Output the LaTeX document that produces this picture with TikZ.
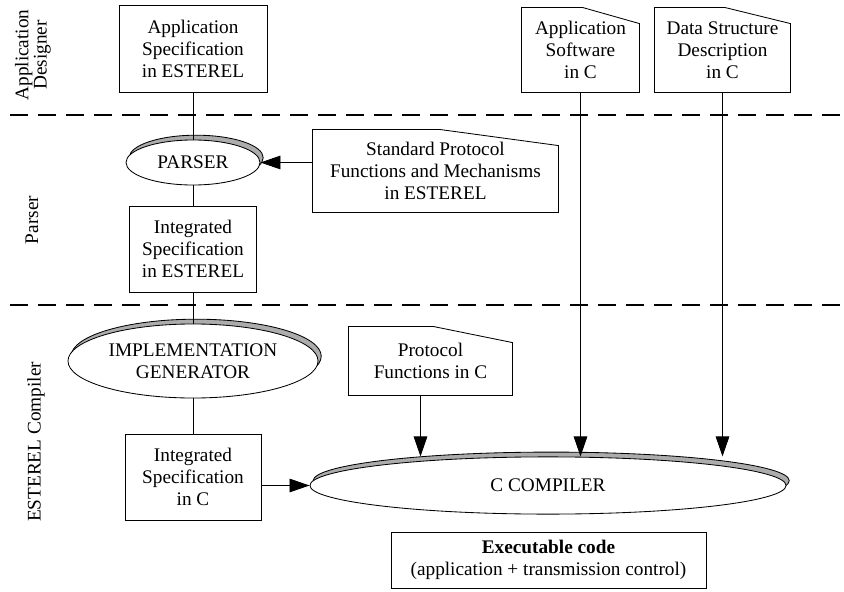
\documentclass[tikz,border=0pt]{standalone}
\usepackage{fontspec}
\setmainfont{Liberation Serif}
\usetikzlibrary{shapes.geometric,shadows,arrows.meta,calc}

\tikzset{
  box/.style={draw, fill=white, align=center, inner sep=0pt},
  doc/.style={align=center, inner sep=0pt},
  proc/.style={ellipse, draw, fill=white, align=center, inner sep=0pt,
    drop shadow={shadow xshift=0.08cm, shadow yshift=0.12cm, fill=gray!65, draw=black, opacity=1}},
  arr/.style={-{Triangle[length=0.5cm,width=0.34cm]}},
  sep/.style={line width=1.3pt, dash pattern=on 0.45cm off 0.25cm},
  lane/.style={rotate=90, align=center, font=\fontsize{13.7}{11}\selectfont}
}

\begin{document}
\begin{tikzpicture}[x=0.025cm, y=-0.025cm, line width=0.6pt, font=\fontsize{13.7}{15.6}\selectfont]
  \useasboundingbox (0,0) rectangle (844,592);

  % lanes
  \draw[sep] (10,115) -- (844,115);
  \draw[sep] (10,305) -- (844,305);
  \node[lane] (designer) at (33,55) {Application\\Designer};
  \node[lane] (parsing) at (32,220) {Parser};
  \node[lane] (compiling) at (36,442) {ESTEREL Compiler};

  % esterel side
  \node[box, minimum width=3.7cm, minimum height=2.175cm] (appspec) at (193,48.5) {Application\\Specification\\in ESTEREL};
  \node[proc, minimum width=3.35cm, minimum height=1.125cm] (parser) at (193,162.5) {PARSER};
  \node[box, minimum width=3.175cm, minimum height=2.15cm] (intesterel) at (193,249) {Integrated\\Specification\\in ESTEREL};
  \node[proc, minimum width=6.25cm, minimum height=1.85cm] (implgen) at (193,361) {IMPLEMENTATION\\GENERATOR};
  \node[box, minimum width=3.4cm, minimum height=2.15cm] (intc) at (193,477) {Integrated\\Specification\\in C};

  % documents
  \node[doc, minimum width=2.925cm, minimum height=2.1cm] (appsw) at (580.5,50) {Application\\Software\\in C};
  \node[doc, minimum width=3.375cm, minimum height=2.1cm] (datadesc) at (722.5,50) {Data Structure\\Description\\in C};
  \node[doc, minimum width=6.125cm, minimum height=2.05cm] (stdproto) at (435.5,171) {Standard Protocol\\Functions and Mechanisms\\in ESTEREL};
  \node[doc, minimum width=4.075cm, minimum height=1.7cm] (protoc) at (430.5,361) {Protocol\\Functions in C};
  \foreach \d in {appsw,datadesc,stdproto,protoc}
    \draw (\d.south west) -- (\d.north west) -- ($(\d.north west)!0.52!(\d.north east)$)
      -- ([yshift=-0.4cm]\d.north east) -- (\d.south east) -- cycle;

  % compiler
  \node[proc, minimum width=11.9cm, minimum height=1.43cm] (ccomp) at (548,485.5) {C COMPILER};
  \node[box, minimum width=7.875cm, minimum height=1.4cm] (exec) at (548.5,560) {\textbf{Executable code}\\(application + transmission control)};

  \draw (appspec.south) -- (parser.north);
  \draw (parser.south) -- (intesterel.north);
  \draw (intesterel.south) -- (implgen.north);
  \draw (implgen.south) -- (intc.north);
  \draw[arr] (stdproto.west |- parser.east) -- (parser.east);
  \draw[arr] (intc.east |- ccomp.west) -- (ccomp.west);
  \draw[arr] ([xshift=-0.25cm]protoc.south) -- ([xshift=-0.25cm]protoc.south |- ccomp.north);
  \draw[arr] (appsw.south) -- (appsw.south |- ccomp.north);
  \draw[arr] (datadesc.south) -- (datadesc.south |- ccomp.north);
\end{tikzpicture}
\end{document}
